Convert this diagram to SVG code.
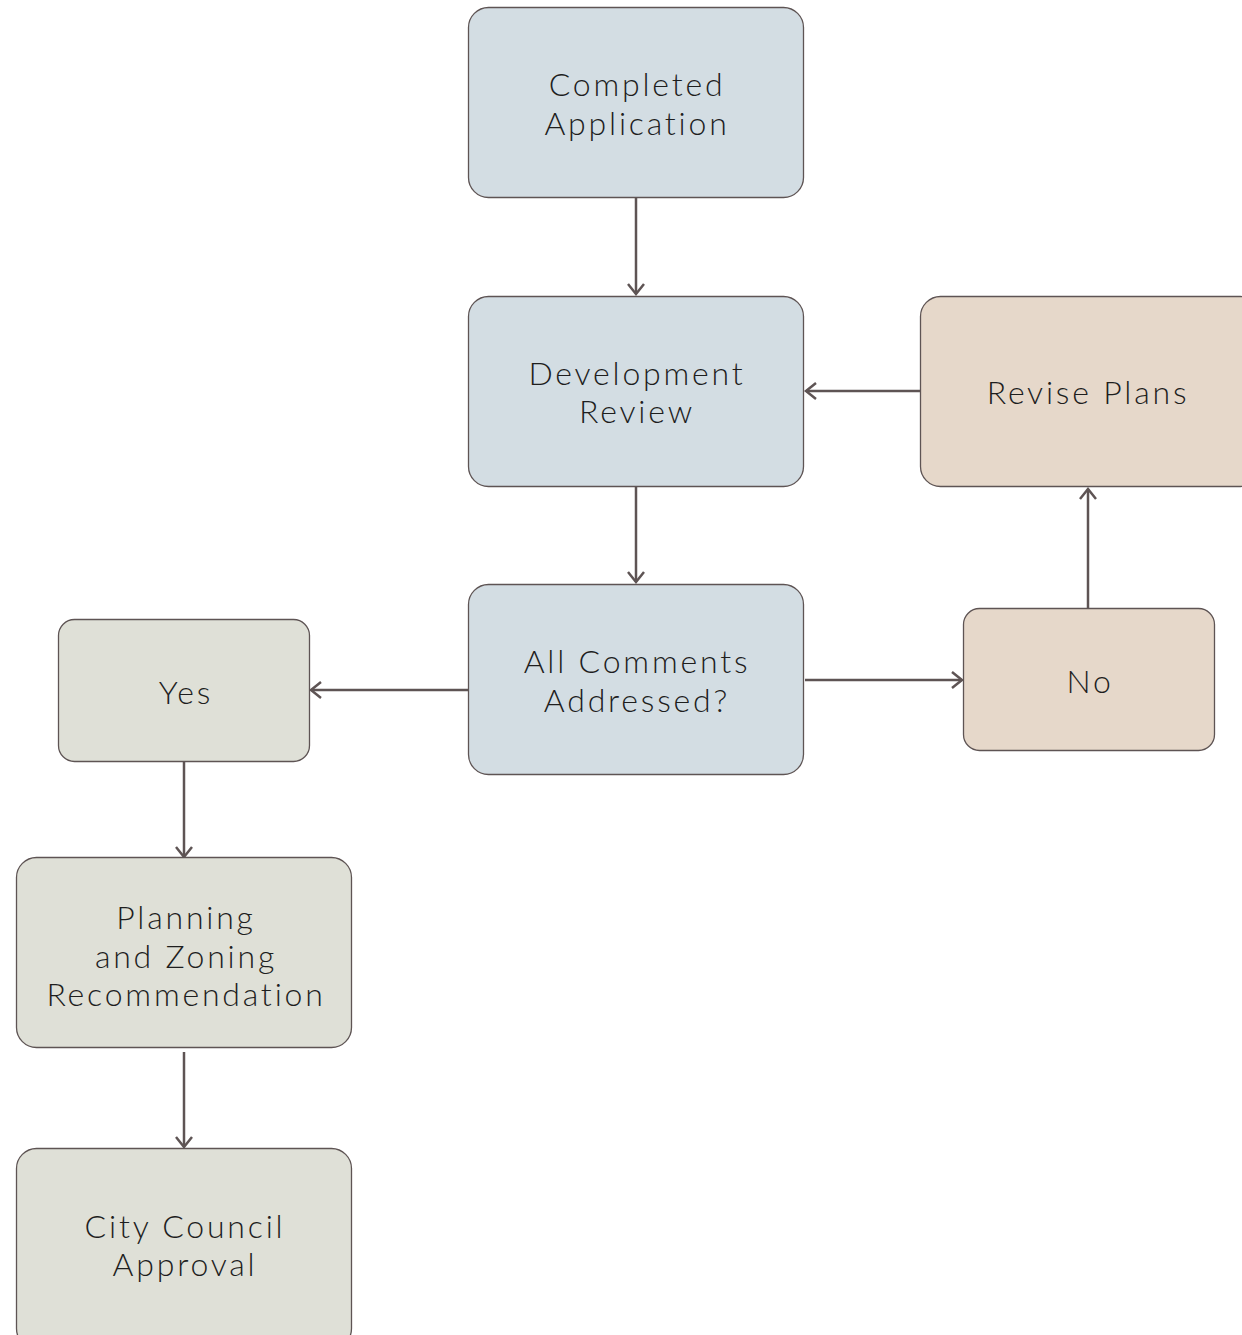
<svg xmlns="http://www.w3.org/2000/svg" width="1242" height="1335" viewBox="0 0 1242 1335">
<style>
.box{stroke:#5e5454;stroke-width:1.3}
.blue{fill:#d3dde3}
.tan{fill:#e6d8ca}
.grey{fill:#dfe0d7}
text{font-family:Lato,"Liberation Sans",sans-serif;font-weight:300;font-size:32px;fill:#1e1e1e;text-anchor:middle;letter-spacing:2.8px}
.c{stroke:#5e5454;stroke-width:2.5;fill:none}
</style>
<defs>
<marker id="ah" viewBox="0 0 20 20" refX="17" refY="10" markerWidth="20" markerHeight="20" markerUnits="userSpaceOnUse" orient="auto">
<path d="M7,2 L17,10 L7,18" fill="none" stroke="#5e5454" stroke-width="2.5"/>
</marker>
</defs>
<rect width="1242" height="1335" fill="#ffffff"/>
<g id="connectors">
<line class="c" x1="636" y1="198" x2="636" y2="294" marker-end="url(#ah)"/>
<line class="c" x1="636" y1="487" x2="636" y2="582" marker-end="url(#ah)"/>
<line class="c" x1="920" y1="391" x2="806" y2="391" marker-end="url(#ah)"/>
<line class="c" x1="1088" y1="608" x2="1088" y2="489" marker-end="url(#ah)"/>
<line class="c" x1="805" y1="680" x2="962" y2="680" marker-end="url(#ah)"/>
<line class="c" x1="468" y1="690" x2="311" y2="690" marker-end="url(#ah)"/>
<line class="c" x1="184" y1="762" x2="184" y2="857" marker-end="url(#ah)"/>
<line class="c" x1="184" y1="1052" x2="184" y2="1147" marker-end="url(#ah)"/>
</g>
<g id="completed">
<rect class="box blue" x="468.5" y="7.5" width="335" height="190" rx="20"/>
<text x="637" y="96">Completed</text>
<text x="637" y="135">Application</text>
</g>
<g id="review">
<rect class="box blue" x="468.5" y="296.5" width="335" height="190" rx="20"/>
<text x="637" y="385">Development</text>
<text x="637" y="423">Review</text>
</g>
<g id="comments">
<rect class="box blue" x="468.5" y="584.5" width="335" height="190" rx="20"/>
<text x="637" y="673">All Comments</text>
<text x="637" y="712">Addressed?</text>
</g>
<g id="revise">
<rect class="box tan" x="920.5" y="296.5" width="340" height="190" rx="20"/>
<text x="1088" y="404">Revise Plans</text>
</g>
<g id="no">
<rect class="box tan" x="963.5" y="608.5" width="251" height="142" rx="16"/>
<text x="1090" y="693">No</text>
</g>
<g id="yes">
<rect class="box grey" x="58.5" y="619.5" width="251" height="142" rx="16"/>
<text x="186" y="704">Yes</text>
</g>
<g id="planning">
<rect class="box grey" x="16.5" y="857.5" width="335" height="190" rx="20"/>
<text x="186" y="929">Planning</text>
<text x="186" y="968">and Zoning</text>
<text x="186" y="1006">Recommendation</text>
</g>
<g id="council">
<rect class="box grey" x="16.5" y="1148.5" width="335" height="200" rx="20"/>
<text x="185" y="1238">City Council</text>
<text x="185" y="1276">Approval</text>
</g>
</svg>
